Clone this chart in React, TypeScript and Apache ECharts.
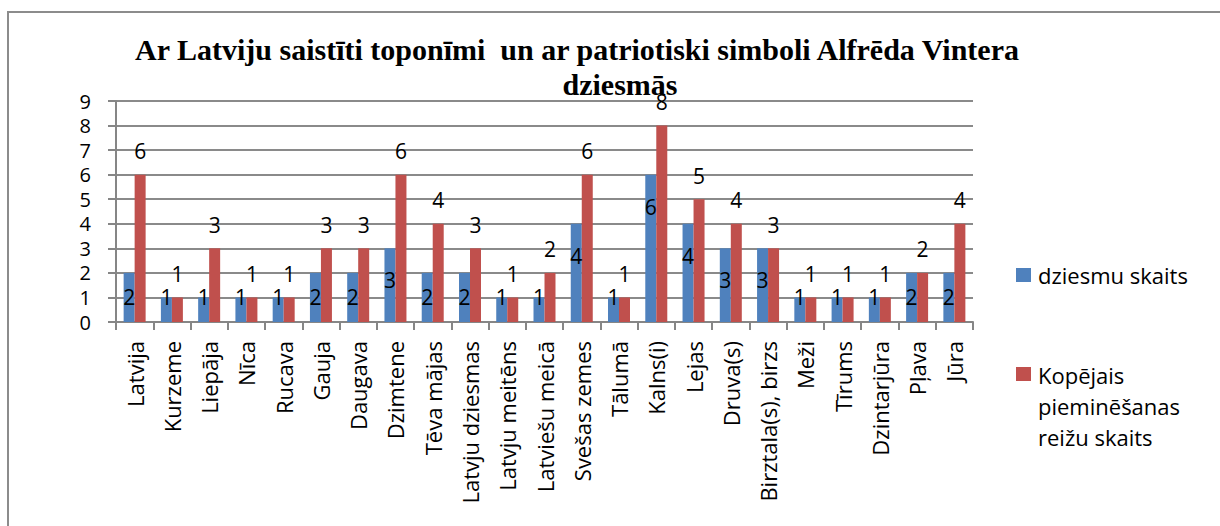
import React, { useEffect, useRef } from "react";
import * as echarts from "echarts";

const categories: string[] = [
  "Latvija", "Kurzeme", "Liepāja", "Nīca", "Rucava", "Gauja", "Daugava", "Dzimtene",
  "Tēva mājas", "Latvju dziesmas", "Latvju meitēns", "Latviešu meicā", "Svešas zemes",
  "Tālumā", "Kalns(i)", "Lejas", "Druva(s)", "Birztala(s), birzs", "Meži", "Tīrums",
  "Dzintarjūra", "Pļava", "Jūra",
];
const songCount: number[] = [2, 1, 1, 1, 1, 2, 2, 3, 2, 2, 1, 1, 4, 1, 6, 4, 3, 3, 1, 1, 1, 2, 2];
const mentionCount: number[] = [6, 1, 3, 1, 1, 3, 3, 6, 4, 3, 1, 2, 6, 1, 8, 5, 4, 3, 1, 1, 1, 2, 4];
const seriesNames: string[] = ["dziesmu skaits", "Kopējais pieminēšanas reižu skaits"];
const legendLines2: string[] = ["Kopējais", "pieminēšanas", "reižu skaits"];
const titleLine1 = "Ar Latviju saistīti toponīmi  un ar patriotiski simboli Alfrēda Vintera";
const titleLine2 = "dziesmās";
const yMin = 0;
const yMax = 9;
const yInterval = 1;

const BLUE = "#4f81bd";
const RED = "#c0504d";
const GRID_TOP = 101;
const GRID_BOTTOM_Y = 322;
const SANS = "'Open Sans', sans-serif";
const SERIF = "'Liberation Serif', 'Times New Roman', serif";

export default function App() {
  const ref = useRef<HTMLDivElement>(null);
  useEffect(() => {
    document.body.style.margin = "0";
    if (!ref.current) return;
    const chart = echarts.init(ref.current, undefined, { renderer: "svg" });
    const pxPerUnit = (GRID_BOTTOM_Y - GRID_TOP) / (yMax - yMin);
    const blueData = songCount.map((v) => ({
      value: v,
      label: {
        position: ["50%", Math.min(32, (v - 1) * pxPerUnit)],
        align: "center",
        verticalAlign: "middle",
      },
    }));
    chart.setOption({
      animation: false,
      backgroundColor: "#ffffff",
      grid: { left: 116, right: 247, top: GRID_TOP, bottom: 526 - GRID_BOTTOM_Y, containLabel: false },
      legend: { show: false, data: seriesNames },
      xAxis: {
        type: "category",
        data: categories,
        axisLine: { lineStyle: { color: "#868686", width: 2 } },
        axisTick: { show: true, length: 8, lineStyle: { color: "#868686", width: 2 } },
        axisLabel: {
          rotate: 90,
          interval: 0,
          margin: 19,
          color: "#000",
          fontFamily: SANS,
          fontSize: 22,
        },
      },
      yAxis: {
        type: "value",
        min: yMin,
        max: yMax,
        interval: yInterval,
        axisLine: { show: true, lineStyle: { color: "#868686", width: 2 } },
        axisTick: { show: true, length: 8, lineStyle: { color: "#868686", width: 2 } },
        splitLine: { show: true, lineStyle: { color: "#8a8a8a", width: 2 } },
        axisLabel: { margin: 25, color: "#000", fontFamily: SANS, fontSize: 20, lineHeight: 20 },
      },
      series: [
        {
          name: seriesNames[0],
          type: "bar",
          data: blueData,
          barWidth: 11,
          barGap: "0%",
          itemStyle: { color: BLUE },
          label: { show: true, color: "#000", fontFamily: SANS, fontSize: 21 },
        },
        {
          name: seriesNames[1],
          type: "bar",
          data: mentionCount,
          barWidth: 11,
          barGap: "0%",
          itemStyle: { color: RED },
          label: {
            show: true,
            position: "top",
            distance: 13,
            color: "#000",
            fontFamily: SANS,
            fontSize: 21,
          },
        },
      ],
      graphic: [
        {
          type: "rect",
          shape: { x: 8, y: 12, width: 1400, height: 700 },
          style: { fill: "none", stroke: "#8c8c8c", lineWidth: 2 },
          silent: true,
        },
        {
          type: "text",
          x: 577,
          y: 49,
          style: {
            text: titleLine1,
            align: "center",
            verticalAlign: "middle",
            fontFamily: SERIF,
            fontWeight: "bold",
            fontSize: 30,
            fill: "#000",
          },
        },
        {
          type: "text",
          x: 620,
          y: 84,
          style: {
            text: titleLine2,
            align: "center",
            verticalAlign: "middle",
            fontFamily: SERIF,
            fontWeight: "bold",
            fontSize: 30,
            fill: "#000",
          },
        },
        {
          type: "rect",
          shape: { x: 1016, y: 268, width: 15, height: 14 },
          style: { fill: BLUE },
        },
        {
          type: "text",
          x: 1038,
          y: 275,
          style: {
            text: seriesNames[0],
            verticalAlign: "middle",
            fontFamily: SANS,
            fontSize: 22,
            fill: "#000",
          },
        },
        {
          type: "rect",
          shape: { x: 1016, y: 367, width: 15, height: 14 },
          style: { fill: RED },
        },
        {
          type: "text",
          x: 1038,
          y: 359,
          style: {
            text: legendLines2.join("\n"),
            verticalAlign: "top",
            lineHeight: 31,
            fontFamily: SANS,
            fontSize: 22,
            fill: "#000",
          },
        },
      ],
    });
    return () => chart.dispose();
  }, []);
  return <div ref={ref} style={{ width: 1220, height: 526 }} />;
}
